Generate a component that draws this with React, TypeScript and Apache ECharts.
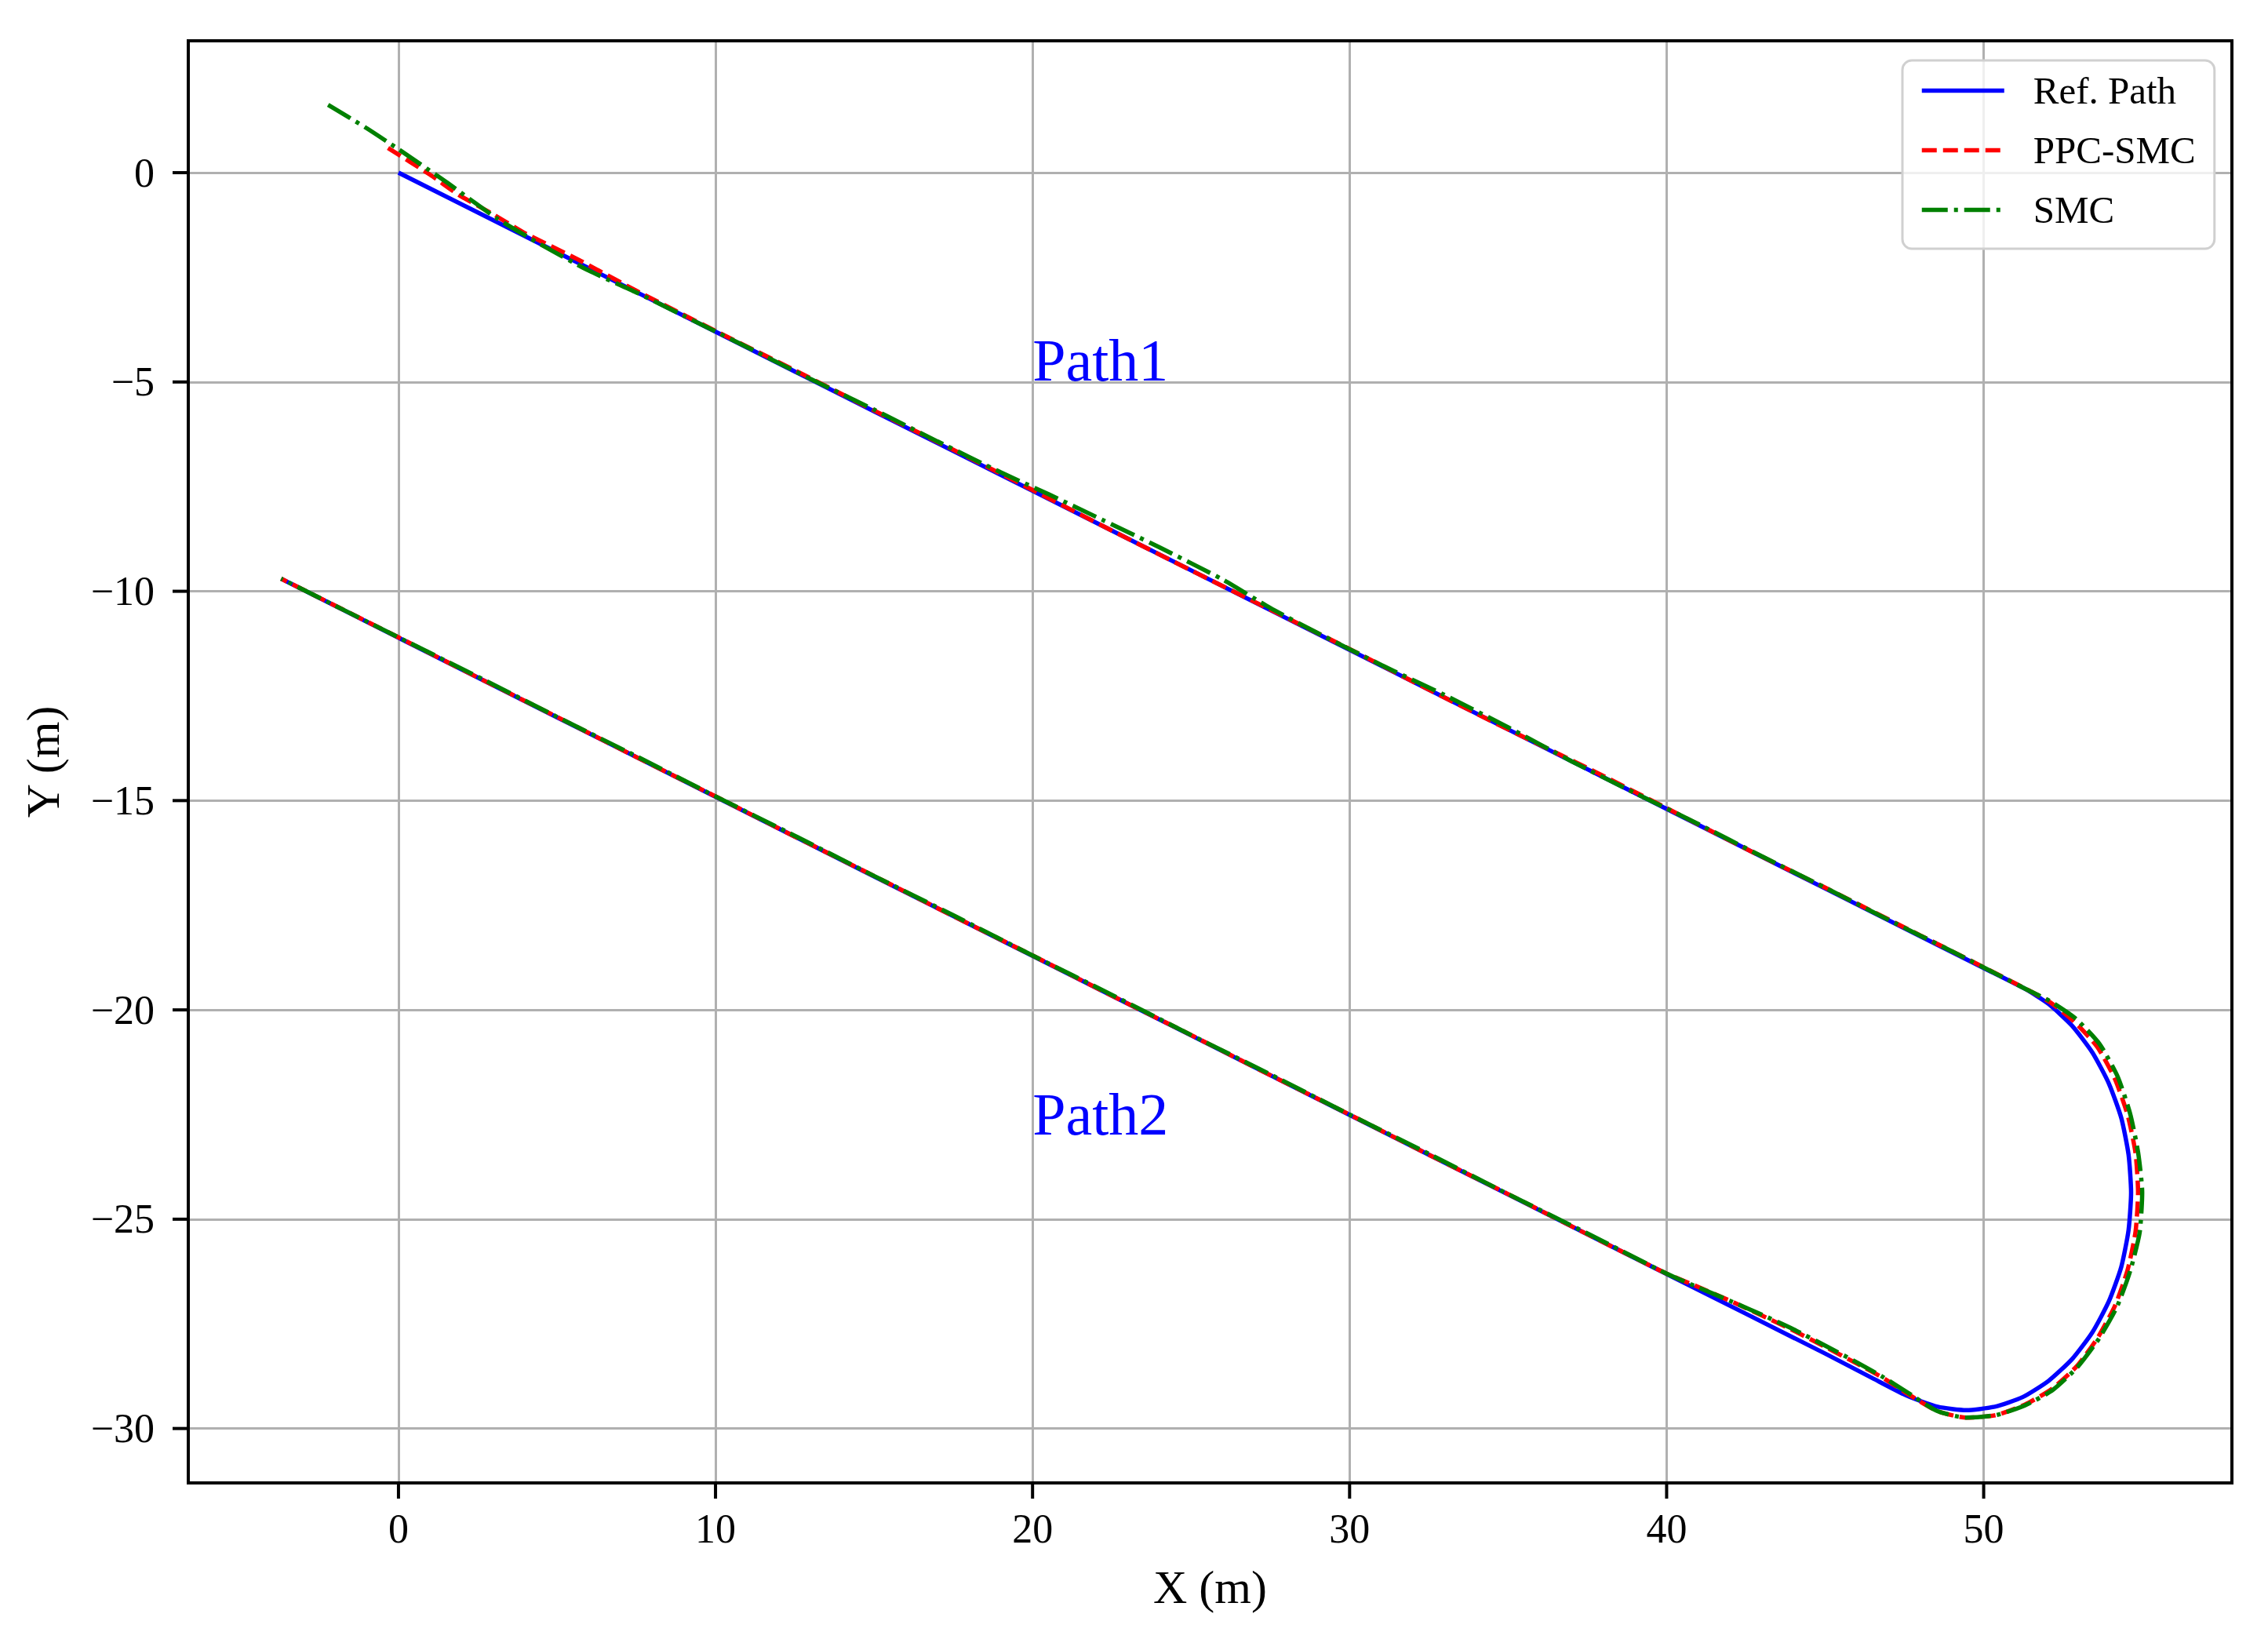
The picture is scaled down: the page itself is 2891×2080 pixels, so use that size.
import React, { useEffect, useRef } from "react";
import * as echarts from "echarts";

const W = 2891;
const H = 2080;
const FONT = "'Liberation Serif', 'Times New Roman', serif";

// Reference path (Path1 -> turn -> Path2)
const refX = [0, 5, 10, 15, 20, 25, 30, 35, 40, 45, 48, 50, 51.31,
  52.05, 52.79, 53.43, 53.95, 54.34, 54.57, 54.65, 54.57, 54.34, 53.95, 53.43, 52.79, 52.05, 51.23, 50.35, 49.45, 48.55, 47.59,
  46.5, 45, 40, 35, 30, 25, 20, 15, 10, 5, 0, -3.7];
const refY = [0, -1.9, -3.8, -5.7, -7.6, -9.5, -11.4, -13.3, -15.2, -17.1, -18.24, -19.0, -19.5,
  -19.86, -20.38, -21.02, -21.76, -22.58, -23.46, -24.36, -25.26, -26.14, -26.96, -27.7, -28.34, -28.86, -29.25, -29.48, -29.56, -29.48, -29.22,
  -28.8, -28.21, -26.31, -24.41, -22.51, -20.61, -18.71, -16.81, -14.91, -13.01, -11.11, -9.7];

// PPC-SMC tracked path
const ppcX = [-0.33, 1, 1.9, 3, 4, 5.6, 7.5, 10, 12.5, 15, 17.5, 20, 22.5, 25, 27.5, 30, 32.5, 35, 37.5, 40, 42.5, 45, 48, 50, 51.31,
  52.08, 52.87, 53.59, 54.14, 54.54, 54.79, 54.87, 54.79, 54.54, 54.14, 53.59, 52.94, 52.16, 51.3, 50.39, 49.45, 48.53, 47.6,
  46.8, 46, 45, 44, 43, 42, 41, 40, 37.5, 35, 32.5, 30, 27.5, 25, 22.5, 20, 17.5, 15, 12.5, 10, 7.5, 5, 2.5, 0, -3.7];
const ppcY = [0.59, -0.05, -0.53, -1.0, -1.45, -2.05, -2.82, -3.78, -4.72, -5.68, -6.62, -7.58, -8.55, -9.5, -10.44, -11.38, -12.35, -13.3, -14.22, -15.18, -16.15, -17.08, -18.22, -18.98, -19.49,
  -19.81, -20.29, -20.89, -21.65, -22.51, -23.42, -24.36, -25.3, -26.21, -27.07, -27.84, -28.51, -29.05, -29.43, -29.68, -29.74, -29.58, -29.17,
  -28.78, -28.45, -28.05, -27.66, -27.3, -26.95, -26.62, -26.3, -25.36, -24.4, -23.46, -22.5, -21.56, -20.6, -19.66, -18.7, -17.76, -16.8, -15.86, -14.9, -13.96, -13.0, -12.06, -11.1, -9.7];

// SMC tracked path
const smcX = [-2.22, -1, 0, 1.5, 3.1, 4.5, 6, 7.5, 9, 11, 13, 15, 17, 19, 20.5, 22, 24, 26, 27.5, 29, 31, 33, 35, 37, 39, 41, 43, 45, 47, 49, 50.5, 51.4,
  52.09, 52.92, 53.66, 54.23, 54.62, 54.87, 55.0, 54.92, 54.62, 54.2, 53.63, 52.95, 52.18, 51.3, 50.39, 49.45, 48.53, 47.6,
  46.8, 46, 45, 44, 43, 42, 41, 40, 37.5, 35, 32.5, 30, 27.5, 25, 22.5, 20, 17.5, 15, 12.5, 10, 7.5, 5, 2.5, 0, -3.7];
const smcY = [1.62, 1.06, 0.56, -0.22, -1.09, -1.72, -2.34, -2.86, -3.42, -4.17, -4.93, -5.66, -6.42, -7.16, -7.68, -8.22, -8.95, -9.72, -10.4, -11.0, -11.76, -12.48, -13.25, -14.06, -14.82, -15.56, -16.33, -17.08, -17.85, -18.6, -19.18, -19.53,
  -19.79, -20.22, -20.82, -21.6, -22.48, -23.4, -24.36, -25.32, -26.24, -27.1, -27.86, -28.54, -29.08, -29.45, -29.68, -29.74, -29.58, -29.14,
  -28.76, -28.42, -28.02, -27.63, -27.28, -26.95, -26.63, -26.3, -25.34, -24.4, -23.44, -22.5, -21.54, -20.6, -19.64, -18.7, -17.74, -16.8, -15.84, -14.9, -13.94, -13.0, -12.04, -11.1, -9.7];

const seriesNames = ["Ref. Path", "PPC-SMC", "SMC"];
const xTicks = [0, 10, 20, 30, 40, 50];
const yTicks = [-30, -25, -20, -15, -10, -5, 0];
const xRange = [-6.63, 57.83];
const yRange = [-31.3, 3.15];

const annotTexts = ["Path1", "Path2"];
const annotX = [20, 20];
const annotY = [-5, -23];

const pairs = (xs: number[], ys: number[]) => xs.map((x, i) => [x, ys[i]]);
const fmt = (v: number) => (v < 0 ? "\u2212" + Math.abs(v) : String(v));

export default function App() {
  const ref = useRef<HTMLDivElement>(null);
  useEffect(() => {
    document.body.style.margin = "0";
    const chart = echarts.init(ref.current!, null, { renderer: "svg" });
    const gridL = 240, gridT = 52, gridW = 2605, gridH = 1838;
    const LW = 5.5;
    const TICK = 20;
    const axisCommon = {
      type: "value" as const,
      axisLine: { show: true, onZero: false, lineStyle: { color: "#000", width: 4 } },
      axisTick: { show: false },
      splitLine: { show: true, lineStyle: { color: "#b0b0b0", width: 3 } },
      nameTextStyle: { fontFamily: FONT, fontSize: 60, color: "#000" },
    };
    chart.setOption({
      animation: false,
      backgroundColor: "#ffffff",
      grid: { left: gridL, top: gridT, width: gridW, height: gridH, show: false },
      xAxis: {
        ...axisCommon,
        position: "bottom",
        min: xRange[0],
        max: xRange[1],
        name: "X (m)",
        nameLocation: "middle",
        nameGap: 103,
        axisLabel: { customValues: xTicks, fontFamily: FONT, fontSize: 52, color: "#000", margin: 32, formatter: fmt },
      },
      yAxis: {
        ...axisCommon,
        position: "left",
        min: yRange[0],
        max: yRange[1],
        name: "Y (m)",
        nameLocation: "middle",
        nameRotate: 90,
        nameGap: 155,
        axisLabel: { customValues: yTicks, fontFamily: FONT, fontSize: 52, color: "#000", margin: 43, formatter: fmt },
      },
      legend: {
        orient: "vertical",
        left: 2425,
        top: 77,
        padding: [14, 24, 25, 22],
        itemWidth: 105,
        itemHeight: 20,
        itemGap: 27,
        backgroundColor: "rgba(255,255,255,0.8)",
        borderColor: "#d0d0d0",
        borderWidth: 3,
        borderRadius: 12,
        itemStyle: { opacity: 0, borderWidth: 0 },
        lineStyle: { width: LW },
        textStyle: { fontFamily: FONT, fontSize: 49, color: "#000", padding: [0, 0, 0, 32] },
        data: seriesNames,
      },
      series: [
        {
          name: seriesNames[0], type: "line", data: pairs(refX, refY), symbol: "none", silent: true, smooth: 0.2,
          lineStyle: { color: "#0000ff", width: LW }, itemStyle: { color: "#0000ff" },
        },
        {
          name: seriesNames[1], type: "line", data: pairs(ppcX, ppcY), symbol: "none", silent: true, smooth: 0.2,
          lineStyle: { color: "#ff0000", width: LW, type: [19, 8] }, itemStyle: { color: "#ff0000" },
        },
        {
          name: seriesNames[2], type: "line", data: pairs(smcX, smcY), symbol: "none", silent: true, smooth: 0.2,
          lineStyle: { color: "#008000", width: LW, type: [33, 8, 5, 8] }, itemStyle: { color: "#008000" },
        },
      ],
    });
    const fs = 76;
    const texts = annotTexts.map((t, i) => {
      const p = chart.convertToPixel({ gridIndex: 0 }, [annotX[i], annotY[i]]) as number[];
      return {
        type: "text",
        x: p[0],
        y: p[1] - fs * 0.36,
        z: 50,
        silent: true,
        style: { text: t, fill: "#0000ff", font: `${fs}px ${FONT}`, align: "left", verticalAlign: "middle" },
      };
    });
    // tick marks as thin filled rectangles placed through the axis scale
    const xTickEls = xTicks.map((v) => {
      const p = chart.convertToPixel({ gridIndex: 0 }, [v, yRange[0]]) as number[];
      return {
        type: "rect", z: 110, silent: true,
        shape: { x: p[0] - 2, y: p[1], width: 4, height: TICK },
        style: { fill: "#000" },
      };
    });
    const yTickEls = yTicks.map((v) => {
      const p = chart.convertToPixel({ gridIndex: 0 }, [xRange[0], v]) as number[];
      return {
        type: "rect", z: 110, silent: true,
        shape: { x: p[0] - TICK, y: p[1] - 2, width: TICK, height: 4 },
        style: { fill: "#000" },
      };
    });
    chart.setOption({
      graphic: {
        elements: [
          {
            type: "rect", z: 100, silent: true,
            shape: { x: gridL, y: gridT, width: gridW, height: gridH },
            style: { fill: "none", stroke: "#000", lineWidth: 4 },
          },
          ...xTickEls,
          ...yTickEls,
          ...texts,
        ],
      },
    });
    return () => chart.dispose();
  }, []);
  return <div ref={ref} style={{ position: "absolute", left: 0, top: 0, width: W, height: H }} />;
}
